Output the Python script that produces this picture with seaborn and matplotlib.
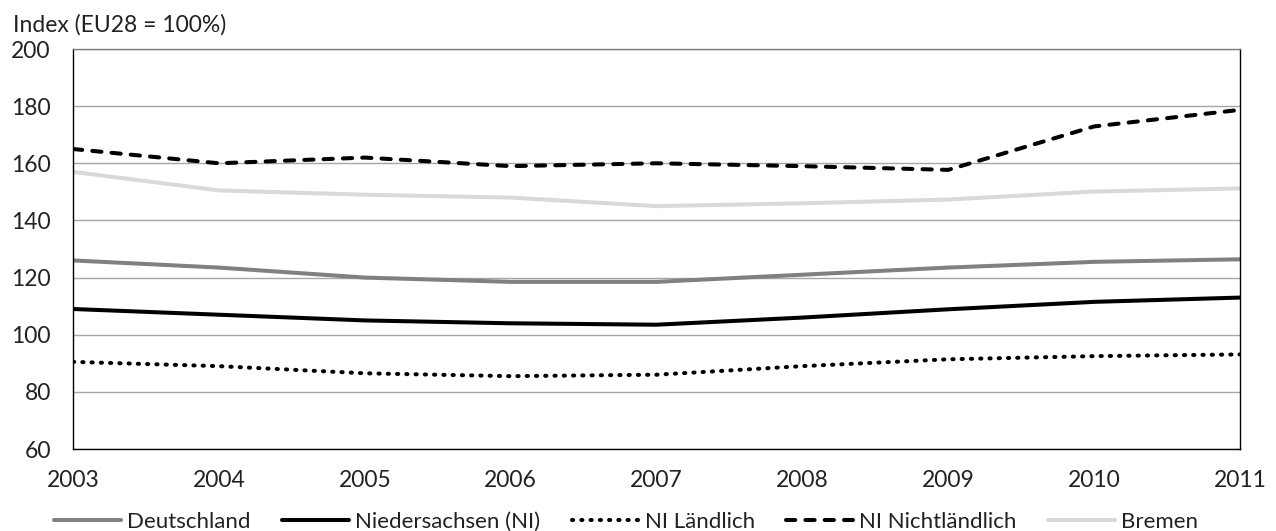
import pandas as pd
import matplotlib
matplotlib.use("Agg")
import matplotlib.pyplot as plt
import seaborn as sns

# ---------------------------------------------------------------
# Data
# ---------------------------------------------------------------
years = [2003, 2004, 2005, 2006, 2007, 2008, 2009, 2010, 2011]
deutschland = [126, 123.5, 120, 118.5, 118.5, 121, 123.5, 125.5, 126.4]
niedersachsen = [109, 107, 105, 104, 103.5, 106, 108.9, 111.5, 113]
ni_laendlich = [90.5, 89, 86.5, 85.5, 86, 89, 91.4, 92.5, 93.1]
ni_nichtlaendlich = [165, 160, 162, 159, 160, 159, 157.7, 172.9, 178.7]
bremen = [157, 150.5, 149, 148, 145, 146, 147.3, 150.1, 151.2]

series = [
    ("Deutschland", deutschland, "#808080", "-"),
    ("Niedersachsen (NI)", niedersachsen, "black", "-"),
    ("NI Ländlich", ni_laendlich, "black", (0, (0.3, 2.0))),
    ("NI Nichtländlich", ni_nichtlaendlich, "black", (0, (2.3, 2.5))),
    ("Bremen", bremen, "#d9d9d9", "-"),
]

sns.set_theme(style="white")
plt.rcParams["font.family"] = ["Lato", "DejaVu Sans"]
FS = 16.5
TXT = "#222222"

fig = plt.figure(figsize=(12.76, 5.31), dpi=100)
ax = fig.add_axes([73 / 1276, 1 - 449 / 531, (1240 - 73) / 1276, (449 - 49) / 531])

for name, vals, col, ls in series:
    df = pd.DataFrame({"year": years, "value": vals})
    sns.lineplot(data=df, x="year", y="value", color=col, linestyle=ls,
                 linewidth=2.9, dash_capstyle="round", ax=ax, label=name)

ax.set_xlim(2003, 2011)
ax.set_ylim(60, 200)
ax.set_xticks(years)
ax.set_yticks(range(60, 201, 20))
ax.set_xlabel("")
ax.set_ylabel("")
ax.yaxis.grid(True, color="#a6a6a6", linewidth=1)
ax.xaxis.grid(False)
ax.set_axisbelow(True)

for side in ["left", "bottom", "right"]:
    ax.spines[side].set_color("black")
    ax.spines[side].set_linewidth(1)
ax.spines["top"].set_color("#808080")
ax.spines["top"].set_linewidth(1)

ax.tick_params(axis="both", which="major", direction="out", width=1,
               color="black", labelsize=FS, labelcolor=TXT)
ax.tick_params(axis="x", length=5, pad=10)
ax.tick_params(axis="y", length=7, pad=9)

fig.text(13 / 1276, 1 - 25 / 531, "Index (EU28 = 100%)", fontsize=FS,
         va="center", ha="left", color=TXT)

leg = ax.legend(loc="center", bbox_to_anchor=(0.474, -0.1825), ncol=5,
                frameon=False, fontsize=16, handlelength=3.0,
                handletextpad=0.3, columnspacing=1.4)
for t in leg.get_texts():
    t.set_color(TXT)

fig.savefig("out.png", dpi=100)
